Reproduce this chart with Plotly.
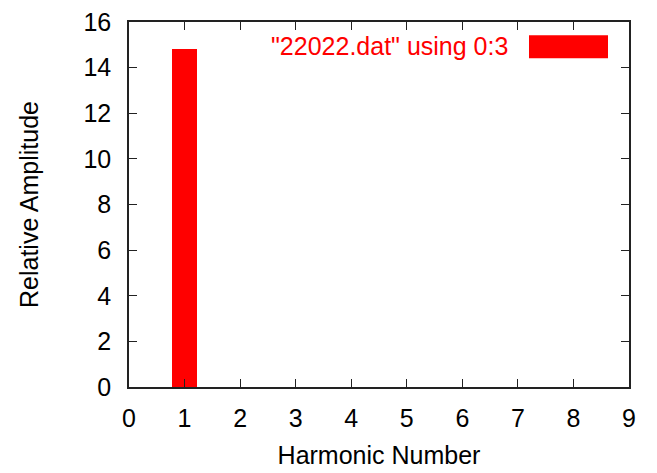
import plotly.graph_objects as go

# harmonic data ("22022.dat" using 0:3)
harmonics = [1]
amplitudes = [14.8]
series_name = '"22022.dat" using 0:3'

x_ticks = list(range(0, 10))
y_ticks = list(range(0, 17, 2))

font = dict(family="Liberation Sans, Arial, sans-serif", size=25, color="black")

fig = go.Figure()
fig.add_trace(go.Bar(x=harmonics, y=amplitudes, width=0.45,
                     marker=dict(color="#ff0000", line=dict(width=0)),
                     name=series_name, showlegend=False))

# gnuplot-like key: text then a red box on the right
fig.add_annotation(xref="paper", yref="paper", x=0.762, y=0.934, xanchor="right",
                   yanchor="middle", text=series_name, showarrow=False,
                   font=dict(family=font["family"], size=25, color="#ff0000"))
fig.add_shape(type="rect", xref="paper", yref="paper", x0=0.8, x1=0.958,
              y0=0.901, y1=0.964, fillcolor="#ff0000", line=dict(width=0))

axis_common = dict(showline=True, linecolor="#222", linewidth=1.5, mirror="ticks",
                   ticks="inside", ticklen=8, tickcolor="#222", tickwidth=1.2,
                   showgrid=False, zeroline=False, tickfont=font,
                   ticklabeloverflow="allow", automargin=False)

fig.update_xaxes(range=[0, 9], tickvals=x_ticks, ticklabelstandoff=8,
                 title=dict(text="Harmonic Number", font=font, standoff=16),
                 **axis_common)
fig.update_yaxes(range=[0, 16], tickvals=y_ticks, ticklabelstandoff=11,
                 title=dict(text="Relative Amplitude", font=font, standoff=38),
                 **axis_common)

# page body adds an 8px offset, margins compensate for it
fig.update_layout(width=657, height=473, plot_bgcolor="white", paper_bgcolor="white",
                  margin=dict(l=121, r=36, t=14, b=94), font=font, bargap=0)

fig.write_html("out.html")
